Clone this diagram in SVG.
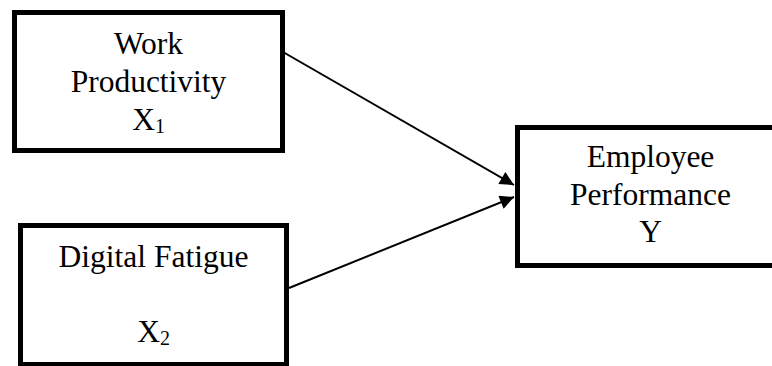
<svg xmlns="http://www.w3.org/2000/svg" width="772" height="366" viewBox="0 0 772 366">
<defs>
<style>
.box{fill:#fff;stroke:#000;stroke-width:5}
.t{font-family:'Liberation Serif','Times New Roman',serif;font-size:31.5px;fill:#000;text-anchor:middle}
.sub{font-size:20px}
.c{stroke:#000;stroke-width:2;fill:none}
</style>
<marker id="ah" viewBox="0 0 10 10" refX="10" refY="5" markerWidth="8" markerHeight="7" markerUnits="strokeWidth" orient="auto">
<path d="M0,0 L10,5 L0,10 z" fill="#000"/>
</marker>
</defs>
<rect width="772" height="366" fill="#fff"/>
<g id="connectors">
<line class="c" x1="283" y1="52" x2="514" y2="185" marker-end="url(#ah)"/>
<line class="c" x1="289" y1="288" x2="514" y2="197" marker-end="url(#ah)"/>
</g>
<g id="work-productivity">
<rect class="box" x="14.5" y="12.5" width="268" height="138"/>
<text class="t" x="148.5" y="54">Work</text>
<text class="t" x="148.5" y="92">Productivity</text>
<text class="t" x="148.5" y="130">X<tspan class="sub" dy="3">1</tspan></text>
</g>
<g id="digital-fatigue">
<rect class="box" x="20.5" y="225.5" width="266" height="139"/>
<text class="t" x="153.5" y="267">Digital Fatigue</text>
<text class="t" x="153.5" y="342">X<tspan class="sub" dy="3">2</tspan></text>
</g>
<g id="employee-performance">
<rect class="box" x="517.5" y="127.5" width="270" height="138"/>
<text class="t" x="650.5" y="167">Employee</text>
<text class="t" x="650.5" y="205">Performance</text>
<text class="t" x="650.5" y="242">Y</text>
</g>
</svg>
